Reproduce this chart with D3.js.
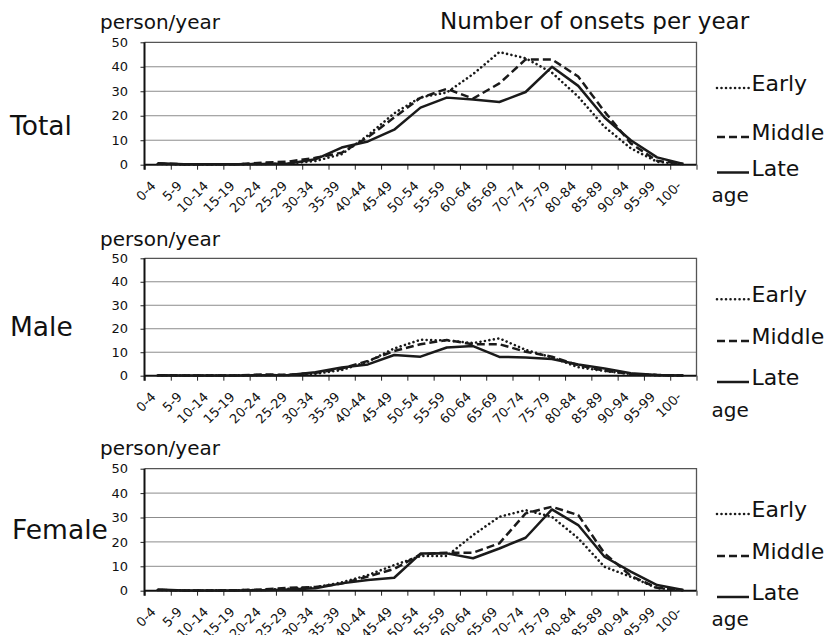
<!DOCTYPE html>
<html>
<head>
<meta charset="utf-8">
<script src="https://cdn.jsdelivr.net/npm/d3@7"></script>
<style>
body { margin: 0; background: #fff; }
svg text { font-family: "DejaVu Sans", Verdana, sans-serif; fill: #111; }
</style>
</head>
<body>
<div id="chart"></div>
<script>
var ages = ["0-4", "5-9", "10-14", "15-19", "20-24", "25-29", "30-34", "35-39", "40-44", "45-49",
	"50-54", "55-59", "60-64", "65-69", "70-74", "75-79", "80-84", "85-89", "90-94", "95-99", "100-"];
var yTicks = [0, 10, 20, 30, 40, 50];
var seriesNames = ["Early", "Middle", "Late"];

// person/year
var totalEarly  = [0.3, 0.1, 0.1, 0.2, 0.3, 0.5, 1.5, 4.3, 12.0, 21.0, 27.5, 29.5, 37.0, 46.0, 43.5, 37.6, 27.8, 15.5, 6.7, 1.2, 0.2];
var totalMiddle = [0.5, 0.2, 0.2, 0.2, 0.8, 1.3, 2.8, 4.9, 11.2, 19.3, 27.3, 31.0, 27.0, 33.2, 43.0, 43.0, 36.0, 21.7, 8.7, 1.6, 0.3];
var totalLate   = [0.6, 0.2, 0.2, 0.2, 0.3, 0.5, 2.2, 7.0, 9.5, 14.3, 23.3, 27.4, 26.6, 25.6, 29.7, 40.0, 32.2, 19.3, 10.0, 3.0, 0.3];

var maleEarly  = [0.1, 0.1, 0.1, 0.1, 0.3, 0.3, 0.8, 2.4, 6.0, 11.6, 15.3, 15.0, 13.9, 15.9, 11.0, 7.8, 3.6, 2.0, 0.7, 0.2, 0.1];
var maleMiddle = [0.2, 0.1, 0.1, 0.1, 0.5, 0.4, 1.2, 3.0, 6.3, 10.5, 13.4, 15.2, 13.4, 13.4, 10.2, 8.1, 4.5, 2.1, 0.7, 0.3, 0.1];
var maleLate   = [0.2, 0.1, 0.1, 0.1, 0.2, 0.3, 1.5, 3.5, 4.8, 8.8, 8.1, 12.0, 12.6, 8.0, 7.8, 7.1, 4.8, 3.1, 1.0, 0.3, 0.1];

var femaleEarly  = [0.3, 0.1, 0.1, 0.2, 0.3, 0.8, 1.4, 3.4, 6.4, 10.5, 14.2, 14.2, 22.8, 30.3, 33.0, 30.3, 21.5, 9.8, 5.7, 1.0, 0.2];
var femaleMiddle = [0.3, 0.1, 0.1, 0.2, 0.5, 1.2, 1.5, 2.9, 5.8, 8.9, 14.9, 15.6, 15.6, 19.4, 31.7, 34.4, 31.0, 15.3, 6.1, 1.2, 0.2];
var femaleLate   = [0.5, 0.1, 0.1, 0.1, 0.2, 0.5, 1.0, 3.0, 4.4, 5.3, 15.2, 15.3, 13.3, 17.3, 21.7, 33.3, 26.9, 13.9, 7.8, 2.3, 0.3];

var left = 144.5, right = 696.5;

var panels = [
	{name: "Total", top: 42.3, bottom: 164.7, series: [totalEarly, totalMiddle, totalLate],
		nameX: 10, nameY: 135, unitY: 28.5, legendY: [91, 140, 175.5], ageY: 202},
	{name: "Male", top: 258.3, bottom: 375.7, series: [maleEarly, maleMiddle, maleLate],
		nameX: 10, nameY: 335.7, unitY: 245.7, legendY: [302.3, 344, 385], ageY: 417},
	{name: "Female", top: 468.7, bottom: 590.7, series: [femaleEarly, femaleMiddle, femaleLate],
		nameX: 12, nameY: 539, unitY: 455, legendY: [517, 559, 600], ageY: 626}
];

var styles = {
	Early: {dash: "0.01 4.5", cap: "round", width: 2.6},
	Middle: {dash: "8 4", cap: "butt", width: 2.5},
	Late: {dash: null, cap: "butt", width: 2.5}
};

var svg = d3.select("#chart").append("svg")
	.attr("width", 829).attr("height", 635);

svg.append("text")
	.attr("x", 440).attr("y", 29.3)
	.style("font-size", "23px")
	.text("Number of onsets per year");

var x = d3.scaleBand().domain(ages).range([left, right]);
var xEdge = d3.scaleLinear().domain([0, ages.length]).range([left, right]);

panels.forEach(function (p) {
	var y = d3.scaleLinear().domain([0, 50]).range([p.bottom, p.top]);
	var g = svg.append("g");

	// gridlines
	g.selectAll("line.grid")
		.data(yTicks.slice(1, -1))
		.enter().append("line")
		.attr("class", "grid")
		.attr("x1", left).attr("x2", right)
		.attr("y1", function (d) { return y(d); })
		.attr("y2", function (d) { return y(d); })
		.style("stroke", "#8c8c8c").style("stroke-width", 1);

	// top + right border
	g.append("path")
		.attr("d", "M" + left + "," + y(50) + "H" + right + "V" + y(0))
		.style("fill", "none").style("stroke", "#555").style("stroke-width", 1.3);

	// y axis
	var yAxis = d3.axisLeft(y).tickValues(yTicks).tickSize(4).tickPadding(12.5);
	var ya = g.append("g").attr("transform", "translate(" + left + ",0)").call(yAxis);
	ya.select(".domain").remove();
	ya.selectAll(".tick line").style("stroke", "#222");
	ya.selectAll("text").style("font-size", "13px").style("fill", "#111")
		.style("font-family", "DejaVu Sans");

	// x ticks at category edges
	var xAxis = d3.axisBottom(xEdge).tickValues(d3.range(ages.length + 1))
		.tickSize(5).tickFormat("");
	var xa = g.append("g").attr("transform", "translate(0," + p.bottom + ")").call(xAxis);
	xa.select(".domain").remove();
	xa.selectAll(".tick line").style("stroke", "#222");

	// axis lines
	g.append("line").attr("x1", left).attr("x2", left)
		.attr("y1", y(50)).attr("y2", y(0) + 5)
		.style("stroke", "#111").style("stroke-width", 2);
	g.append("line").attr("x1", left).attr("x2", right)
		.attr("y1", y(0)).attr("y2", y(0))
		.style("stroke", "#111").style("stroke-width", 2);

	// x labels
	g.selectAll("text.age")
		.data(ages)
		.enter().append("text")
		.attr("class", "age")
		.attr("text-anchor", "end")
		.style("font-size", "13px")
		.attr("transform", function (d) {
			return "translate(" + (x(d) + x.bandwidth() / 2 - 1) + "," + (p.bottom + 22) + ") rotate(-45)";
		})
		.text(function (d) { return d; });

	// series
	var line = d3.line()
		.x(function (d, i) { return x(ages[i]) + x.bandwidth() / 2; })
		.y(function (d) { return y(d); });

	seriesNames.forEach(function (s, k) {
		var st = styles[s];
		g.append("path")
			.datum(p.series[k])
			.attr("d", line)
			.style("fill", "none")
			.style("stroke", "#1a1a1a")
			.style("stroke-width", st.width)
			.style("stroke-linecap", st.cap)
			.style("stroke-linejoin", "round")
			.style("stroke-dasharray", st.dash);

		// legend
		g.append("line")
			.attr("x1", 717).attr("x2", 749)
			.attr("y1", p.legendY[k] - 3).attr("y2", p.legendY[k] - 3)
			.style("stroke", "#1a1a1a")
			.style("stroke-width", st.width)
			.style("stroke-linecap", st.cap)
			.style("stroke-dasharray", st.dash);
		g.append("text")
			.attr("x", 751.5).attr("y", p.legendY[k])
			.style("font-size", "22px")
			.text(s);
	});

	g.append("text").attr("x", 711.5).attr("y", p.ageY)
		.style("font-size", "20px").text("age");

	g.append("text").attr("x", 100).attr("y", p.unitY)
		.style("font-size", "20px").text("person/year");

	g.append("text").attr("x", p.nameX).attr("y", p.nameY)
		.style("font-size", "26.5px").text(p.name);
});
</script>
</body>
</html>
